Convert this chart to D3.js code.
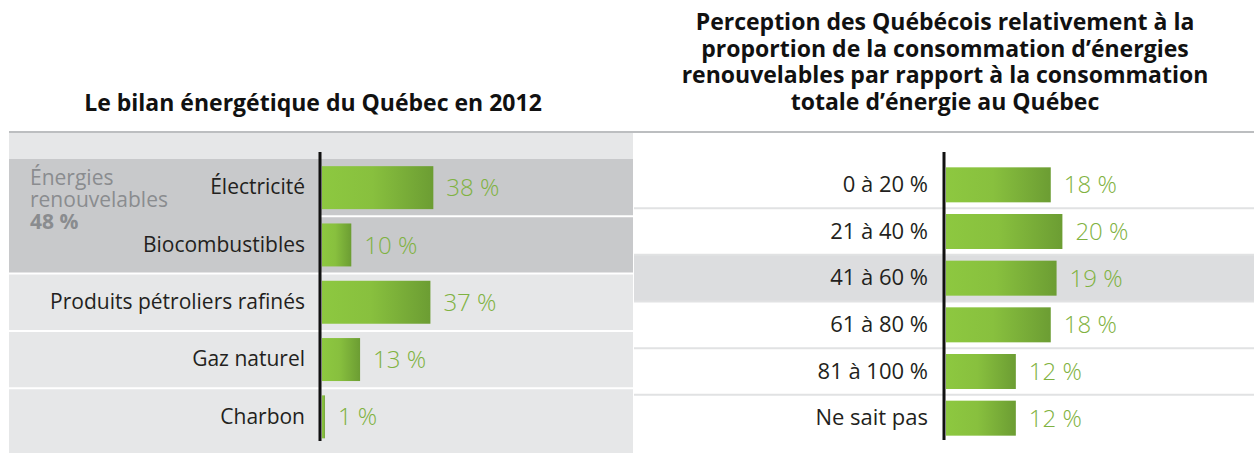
<!DOCTYPE html>
<html lang="fr">
<head>
<meta charset="UTF-8">
<title>Bilan énergétique du Québec</title>
<script src="https://cdn.jsdelivr.net/npm/d3@7/dist/d3.min.js"></script>
<style>
  body { margin: 0; background: #fff; }
  svg text { font-family: "Open Sans", "DejaVu Sans", sans-serif; }
</style>
</head>
<body>
<script>
    // données : bilan énergétique 2012 (%)
    const bilanCategories = ['Électricité', 'Biocombustibles', 'Produits pétroliers rafinés', 'Gaz naturel', 'Charbon'];
    const bilanValeurs = [38, 10, 37, 13, 1];
    const renouvelables = ['Électricité', 'Biocombustibles'];
    const renouvelablesTexte = ['Énergies', 'renouvelables', '48 %'];

    // données : perception des Québécois (%)
    const perceptionCategories = ['0 à 20 %', '21 à 40 %', '41 à 60 %', '61 à 80 %', '81 à 100 %', 'Ne sait pas'];
    const perceptionValeurs = [18, 20, 19, 18, 12, 12];
    const perceptionSurlignee = '41 à 60 %';

    const titreGauche = 'Le bilan énergétique du Québec en 2012';
    const titreDroite = [
        'Perception des Québécois relativement à la',
        'proportion de la consommation d’énergies',
        'renouvelables par rapport à la consommation',
        'totale d’énergie au Québec'
    ];

    const w = 1254, h = 453;
    const vert = '#7fb241';

    let svg = d3.select('body').append('svg')
        .attr('width', w)
        .attr('height', h);

    // dégradé des barres
    let grad = svg.append('defs').append('linearGradient')
        .attr('id', 'barre')
        .attr('x1', '0%').attr('x2', '100%');
    grad.append('stop').attr('offset', '0%').attr('stop-color', '#8dc840');
    grad.append('stop').attr('offset', '45%').attr('stop-color', '#88c03e');
    grad.append('stop').attr('offset', '100%').attr('stop-color', '#6c9d33');

    // ---------- panneau de gauche ----------
    const axeG = 320;
    let yG = d3.scaleBand()
        .domain(bilanCategories)
        .range([159, 445.5])
        .paddingInner(0.25)
        .paddingOuter(0.125);
    let xG = d3.scaleLinear().domain([0, 100]).range([axeG + 2, axeG + 2 + 293]);
    const pasG = yG.step();
    const hautRang = c => yG(c) - yG.paddingOuter() * pasG;

    svg.append('rect')
        .attr('x', 9).attr('y', 133)
        .attr('width', 624).attr('height', h - 133)
        .attr('fill', '#e6e7e8');

    // bande des énergies renouvelables
    svg.append('rect')
        .attr('x', 9).attr('y', hautRang(renouvelables[0]))
        .attr('width', 624)
        .attr('height', pasG * renouvelables.length)
        .attr('fill', '#c8c9cb');

    // séparateurs blancs
    svg.selectAll('.sepG')
        .data(bilanCategories.slice(1))
        .enter().append('line')
        .attr('x1', d => renouvelables.includes(d) ? axeG : 9)
        .attr('x2', 633)
        .attr('y1', d => hautRang(d))
        .attr('y2', d => hautRang(d))
        .attr('stroke', '#fff')
        .attr('stroke-width', 2);

    svg.append('line')
        .attr('x1', 9).attr('x2', w)
        .attr('y1', 132).attr('y2', 132)
        .attr('stroke', '#bcbec0')
        .attr('stroke-width', 2);

    svg.selectAll('.barreG')
        .data(bilanValeurs)
        .enter().append('rect')
        .attr('x', xG(0))
        .attr('y', (d, i) => yG(bilanCategories[i]))
        .attr('width', d => xG(d) - xG(0))
        .attr('height', yG.bandwidth())
        .attr('fill', 'url(#barre)');

    svg.selectAll('.valG')
        .data(bilanValeurs)
        .enter().append('text')
        .attr('x', d => xG(d) + 13)
        .attr('y', (d, i) => yG(bilanCategories[i]) + yG.bandwidth() / 2)
        .attr('dy', '0.36em')
        .attr('font-size', '24px')
        .attr('font-weight', 300)
        .attr('fill', vert)
        .text(d => d + '\u00a0%');

    let axeGauche = svg.append('g')
        .attr('transform', `translate(${axeG},0)`)
        .call(d3.axisLeft(yG).tickSize(0).tickPadding(15));
    axeGauche.select('.domain').remove();
    axeGauche.selectAll('text')
        .attr('font-size', '21px')
        .attr('font-weight', 400)
        .attr('fill', '#231f20')
        .style('font-family', '"Open Sans", sans-serif');

    svg.append('line')
        .attr('x1', axeG).attr('x2', axeG)
        .attr('y1', 152).attr('y2', 441)
        .attr('stroke', '#111')
        .attr('stroke-width', 3);

    // mention « Énergies renouvelables 48 % »
    svg.selectAll('.renouv')
        .data(renouvelablesTexte)
        .enter().append('text')
        .attr('x', 30)
        .attr('y', (d, i) => 185 + i * 22)
        .attr('font-size', '21px')
        .attr('font-weight', (d, i) => i === 2 ? 700 : 400)
        .attr('fill', '#8a8c8f')
        .text(d => d);

    svg.append('text')
        .attr('x', 313).attr('y', 111)
        .attr('text-anchor', 'middle')
        .attr('font-size', '23px')
        .attr('font-weight', 700)
        .attr('fill', '#111')
        .text(titreGauche);

    // ---------- panneau de droite ----------
    const axeD = 944;
    let yD = d3.scaleBand()
        .domain(perceptionCategories)
        .range([161.5, 441.5])
        .paddingInner(0.25)
        .paddingOuter(0.125);
    let xD = d3.scaleLinear().domain([0, 100]).range([axeD + 2, axeD + 2 + 582]);
    const pasD = yD.step();
    const hautRangD = c => yD(c) - yD.paddingOuter() * pasD;

    svg.append('rect')
        .attr('x', 634).attr('y', hautRangD(perceptionSurlignee))
        .attr('width', w - 634).attr('height', pasD)
        .attr('fill', '#dcdddf');

    svg.selectAll('.sepD')
        .data(perceptionCategories.slice(1))
        .enter().append('line')
        .attr('x1', 634).attr('x2', w)
        .attr('y1', d => hautRangD(d))
        .attr('y2', d => hautRangD(d))
        .attr('stroke', '#e1e2e3')
        .attr('stroke-width', 2);

    svg.selectAll('.barreD')
        .data(perceptionValeurs)
        .enter().append('rect')
        .attr('x', xD(0))
        .attr('y', (d, i) => yD(perceptionCategories[i]))
        .attr('width', d => xD(d) - xD(0))
        .attr('height', yD.bandwidth())
        .attr('fill', 'url(#barre)');

    svg.selectAll('.valD')
        .data(perceptionValeurs)
        .enter().append('text')
        .attr('x', d => xD(d) + 13)
        .attr('y', (d, i) => yD(perceptionCategories[i]) + yD.bandwidth() / 2)
        .attr('dy', '0.36em')
        .attr('font-size', '24px')
        .attr('font-weight', 300)
        .attr('fill', vert)
        .text(d => d + '\u00a0%');

    let axeDroite = svg.append('g')
        .attr('transform', `translate(${axeD},0)`)
        .call(d3.axisLeft(yD).tickSize(0).tickPadding(16));
    axeDroite.select('.domain').remove();
    axeDroite.selectAll('text')
        .attr('font-size', '22px')
        .attr('font-weight', 400)
        .attr('fill', '#231f20')
        .style('font-family', '"Open Sans", sans-serif');

    svg.append('line')
        .attr('x1', axeD).attr('x2', axeD)
        .attr('y1', 152).attr('y2', 440)
        .attr('stroke', '#111')
        .attr('stroke-width', 3);

    // titre de droite, une ligne par élément
    svg.selectAll('.titreD')
        .data(titreDroite)
        .enter().append('text')
        .attr('x', 945)
        .attr('y', (d, i) => 30 + i * 26.5)
        .attr('text-anchor', 'middle')
        .attr('font-size', '23px')
        .attr('font-weight', 700)
        .attr('fill', '#111')
        .text(d => d);
</script>
</body>
</html>
